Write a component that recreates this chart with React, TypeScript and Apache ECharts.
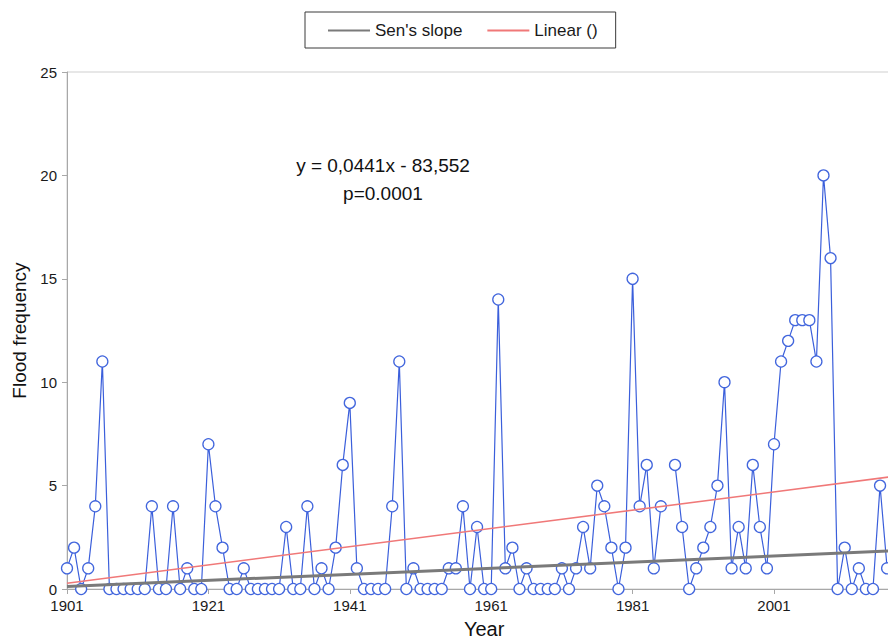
import React, { useEffect, useRef } from "react";
import * as echarts from "echarts";

const startYear = 1901;
// Flood frequency per year, 1901..2017 (null = missing year 1986)
const floodFrequency: (number | null)[] = [
  1, 2, 0, 1, 4, 11, 0, 0, 0, 0, // 1901-1910
  0, 0, 4, 0, 0, 4, 0, 1, 0, 0, // 1911-1920
  7, 4, 2, 0, 0, 1, 0, 0, 0, 0, // 1921-1930
  0, 3, 0, 0, 4, 0, 1, 0, 2, 6, // 1931-1940
  9, 1, 0, 0, 0, 0, 4, 11, 0, 1, // 1941-1950
  0, 0, 0, 0, 1, 1, 4, 0, 3, 0, // 1951-1960
  0, 14, 1, 2, 0, 1, 0, 0, 0, 0, // 1961-1970
  1, 0, 1, 3, 1, 5, 4, 2, 0, 2, // 1971-1980
  15, 4, 6, 1, 4, null, 6, 3, 0, 1, // 1981-1990
  2, 3, 5, 10, 1, 3, 1, 6, 3, 1, // 1991-2000
  7, 11, 12, 13, 13, 13, 11, 20, 16, 0, // 2001-2010
  2, 0, 1, 0, 0, 5, 1, // 2011-2017
];

const trendYears = [1901, 2019];
const sensSlopeValues = [0.12, 1.86];
const linearValues = [0.28, 5.49];

const xAxisSpan = 118; // 1901..2019
const xLabelStep = 20;
const yMin = 0;
const yMax = 25;
const yStep = 5;

const equationText = "y = 0,0441x - 83,552";
const pValueText = "p=0.0001";

export default function App() {
  const ref = useRef<HTMLDivElement>(null);

  useEffect(() => {
    if (!ref.current) return;
    const chart = echarts.init(ref.current, null, { renderer: "svg" });
    const floodData = floodFrequency.map((v, i) => [i, v === null ? "-" : v]);
    const sensData = trendYears.map((y, i) => [y - startYear, sensSlopeValues[i]]);
    const linData = trendYears.map((y, i) => [y - startYear, linearValues[i]]);
    const sansFont = "'Liberation Sans', Arial, sans-serif";

    chart.setOption({
      animation: false,
      backgroundColor: "#ffffff",
      grid: {
        left: 67,
        top: 72,
        right: 940 - (67 + 7.07 * xAxisSpan),
        bottom: 53,
        show: true,
        borderColor: "#cfcfcf",
        borderWidth: 1,
        backgroundColor: "transparent",
      },
      legend: {
        data: ["Sen's slope", "Linear ()"],
        left: 305,
        top: 12,
        orient: "horizontal",
        padding: [10, 18, 9, 22],
        itemWidth: 42,
        itemHeight: 16,
        itemGap: 24,
        borderColor: "#3a3a3a",
        borderWidth: 1,
        itemStyle: { opacity: 0 },
        textStyle: { fontSize: 17, color: "#1a1a1a", fontFamily: sansFont },
      },
      xAxis: {
        type: "value",
        min: 0,
        max: xAxisSpan,
        interval: xLabelStep,
        name: "Year",
        nameLocation: "middle",
        nameGap: 30,
        nameTextStyle: { fontSize: 20, color: "#111", fontFamily: sansFont },
        axisLine: { show: true, onZero: false, lineStyle: { color: "#a8a8a8", width: 1 } },
        axisTick: { show: true, length: 5, lineStyle: { color: "#a8a8a8" } },
        axisLabel: {
          fontSize: 15,
          color: "#1a1a1a",
          margin: 9,
          fontFamily: sansFont,
          showMaxLabel: false,
          formatter: (v: number) => String(v + startYear),
        },
        splitLine: { show: false },
      },
      yAxis: {
        type: "value",
        min: yMin,
        max: yMax,
        interval: yStep,
        name: "Flood frequency",
        nameLocation: "middle",
        nameRotate: 90,
        nameGap: 38,
        nameTextStyle: { fontSize: 19, color: "#111", fontFamily: sansFont },
        axisLine: { show: true, lineStyle: { color: "#a8a8a8", width: 1 } },
        axisTick: { show: true, length: 5, lineStyle: { color: "#a8a8a8" } },
        axisLabel: { fontSize: 15, color: "#1a1a1a", margin: 10, fontFamily: sansFont },
        splitLine: { show: false },
      },
      graphic: [
        {
          type: "text",
          x: 383,
          y: 165,
          style: {
            text: equationText,
            fontSize: 19,
            fontFamily: sansFont,
            fill: "#111",
            textAlign: "center",
            textVerticalAlign: "middle",
          },
        },
        {
          type: "text",
          x: 383,
          y: 193,
          style: {
            text: pValueText,
            fontSize: 19,
            fontFamily: sansFont,
            fill: "#111",
            textAlign: "center",
            textVerticalAlign: "middle",
          },
        },
      ],
      series: [
        {
          name: "Flood frequency",
          type: "line",
          data: floodData,
          connectNulls: false,
          symbol: "circle",
          symbolSize: 11,
          showAllSymbol: true,
          itemStyle: { color: "#ffffff", borderColor: "#4266dd", borderWidth: 1.3 },
          lineStyle: { color: "#3b5fdb", width: 1.2 },
          z: 2,
        },
        {
          name: "Linear ()",
          type: "line",
          data: linData,
          symbol: "none",
          color: "#f07878",
          lineStyle: { color: "#f07878", width: 1.6 },
          z: 3,
        },
        {
          name: "Sen's slope",
          type: "line",
          data: sensData,
          symbol: "none",
          color: "#7a7a7a",
          lineStyle: { color: "#7a7a7a", width: 3 },
          z: 4,
        },
      ],
    });
    return () => chart.dispose();
  }, []);

  return (
    <div
      style={{
        position: "fixed",
        left: 0,
        top: 0,
        width: 888,
        height: 644,
        overflow: "hidden",
        background: "#fff",
      }}
    >
      <div ref={ref} style={{ width: 940, height: 644 }} />
    </div>
  );
}
